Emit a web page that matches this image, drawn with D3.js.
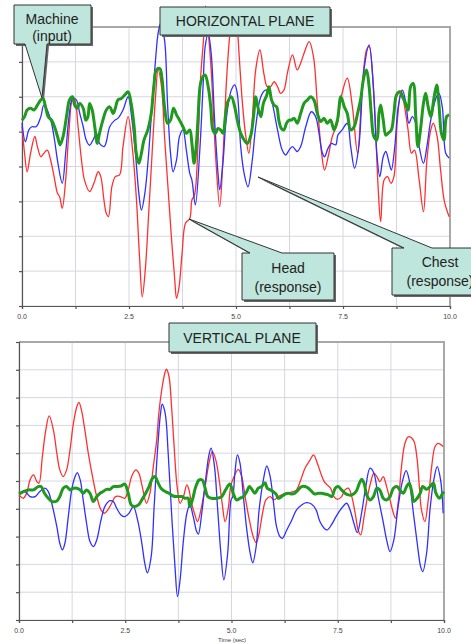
<!DOCTYPE html>
<html>
<head>
<meta charset="utf-8">
<script src="https://cdnjs.cloudflare.com/ajax/libs/d3/7.8.5/d3.min.js"></script>
<style>
  body { margin: 0; background: #fff; }
  svg { display: block; font-family: "Liberation Sans", Arial, sans-serif; }
</style>
</head>
<body>
<svg id="chart" width="471" height="643"></svg>
<script>
// time axis
const gridTimes = [0, 1.25, 2.5, 3.75, 5, 6.25, 7.5, 8.75, 10];
const tickLabels = ["0.0", "2.5", "5.0", "7.5", "10.0"];
const labelTimes = [0, 2.5, 5, 7.5, 10];

// horizontal plane: [time, value]
const horizHead = [[0,1.14],[0.06,0.38],[0.12,-0.15],[0.2,0.38],[0.3,0.86],[0.36,0.57],[0.44,0.28],[0.51,0.38],[0.59,0.47],[0.67,0.18],[0.75,-0.29],[0.83,-0.77],[0.88,-0.87],[0.94,-1.2],[1.02,-0.39],[1.1,1.05],[1.18,1.91],[1.23,1.91],[1.31,1.14],[1.39,0.18],[1.46,-0.39],[1.58,-0.72],[1.68,-0.48],[1.78,-0.15],[1.84,-0.29],[1.92,-1.01],[1.97,-1.35],[2.02,-1.44],[2.1,-0.58],[2.18,-0.29],[2.28,-0.24],[2.36,0.57],[2.48,1.43],[2.59,0.38],[2.67,-0.87],[2.75,-2.68],[2.81,-3.74],[2.88,-2.97],[2.96,-1.35],[3.04,0.38],[3.12,2.0],[3.18,2.77],[3.26,2.29],[3.33,0.86],[3.41,-0.58],[3.49,-2.01],[3.57,-3.26],[3.61,-3.78],[3.67,-3.45],[3.74,-2.49],[3.82,-1.63],[3.92,-1.49],[3.97,-0.96],[4.03,-0.82],[4.11,0.57],[4.17,2.48],[4.24,3.63],[4.29,4.6],[4.35,3.9],[4.42,2.77],[4.52,0.38],[4.62,-1.15],[4.7,0.38],[4.77,2.29],[4.85,3.72],[4.92,4.5],[5.03,3.92],[5.07,3.25],[5.15,1.81],[5.23,0.86],[5.3,0.38],[5.38,1.33],[5.46,2.77],[5.56,3.34],[5.65,2.67],[5.73,2.29],[5.81,2.29],[5.89,2.43],[5.97,2.29],[6.04,2.1],[6.12,2.19],[6.2,2.67],[6.32,3.2],[6.43,2.77],[6.51,2.96],[6.59,3.25],[6.71,3.58],[6.81,3.15],[6.9,1.81],[7.0,0.38],[7.07,-0.1],[7.17,0.38],[7.25,0.86],[7.37,1.24],[7.46,2.0],[7.6,2.53],[7.72,1.71],[7.84,0.38],[7.95,2.29],[8.05,3.34],[8.11,3.44],[8.23,1.81],[8.32,-0.58],[8.38,-1.58],[8.46,-0.39],[8.54,-0.29],[8.62,-0.48],[8.69,-0.29],[8.77,1.33],[8.86,2.19],[8.94,1.71],[9.02,1.05],[9.1,0.38],[9.17,0.47],[9.28,-0.39],[9.38,-1.3],[9.46,0.18],[9.55,1.05],[9.61,1.24],[9.7,0.86],[9.78,-0.1],[9.87,-1.01],[9.98,-1.44]];

const horizChest = [[0,1.24],[0.08,0.71],[0.16,1.05],[0.23,1.14],[0.33,1.14],[0.44,1.43],[0.51,1.76],[0.59,1.62],[0.69,1.24],[0.76,0.76],[0.84,0.09],[0.94,-0.48],[1.02,0.38],[1.1,1.43],[1.18,1.95],[1.27,1.91],[1.35,1.52],[1.43,1.14],[1.5,0.76],[1.58,0.61],[1.66,0.76],[1.74,0.95],[1.81,0.66],[1.92,0.57],[1.97,0.71],[2.05,1.14],[2.17,1.33],[2.24,1.38],[2.36,1.62],[2.48,2.0],[2.57,1.33],[2.65,0.38],[2.73,-0.77],[2.79,-1.25],[2.87,-0.77],[2.96,0.38],[3.04,1.81],[3.12,3.06],[3.18,3.82],[3.24,4.1],[3.33,3.63],[3.4,1.81],[3.47,0.38],[3.53,-0.15],[3.61,0.18],[3.68,0.86],[3.76,1.05],[3.84,0.47],[3.92,-0.2],[3.97,-0.39],[4.05,-1.1],[4.15,0.38],[4.23,2.29],[4.28,3.44],[4.35,3.82],[4.42,3.25],[4.5,1.33],[4.58,-0.2],[4.62,-0.67],[4.7,0.18],[4.77,1.33],[4.89,2.19],[4.97,2.34],[5.03,2.1],[5.11,0.57],[5.19,-0.2],[5.28,-0.58],[5.38,0.18],[5.46,1.14],[5.58,2.0],[5.69,2.19],[5.77,2.15],[5.85,1.81],[5.97,1.05],[6.08,0.47],[6.16,0.33],[6.24,0.47],[6.32,0.57],[6.43,0.43],[6.51,0.57],[6.63,1.14],[6.76,1.57],[6.86,1.43],[6.94,0.95],[7.02,0.38],[7.07,0.28],[7.15,0.52],[7.23,0.66],[7.33,0.62],[7.38,0.9],[7.48,1.05],[7.6,1.24],[7.68,0.57],[7.77,-0.05],[7.87,0.57],[7.99,2.77],[8.11,3.49],[8.21,2.29],[8.29,0.38],[8.36,-0.29],[8.44,0.28],[8.5,0.43],[8.58,0.09],[8.63,-0.1],[8.71,0.57],[8.79,1.71],[8.89,2.19],[8.97,1.81],[9.04,1.24],[9.12,1.43],[9.2,1.24],[9.28,0.57],[9.38,0.09],[9.46,0.57],[9.55,1.33],[9.67,1.95],[9.74,2.1],[9.82,1.71],[9.9,0.38],[9.98,0.24]];

const horizMachine = [[0,1.33],[0.06,1.43],[0.12,1.62],[0.2,1.67],[0.28,1.62],[0.36,1.76],[0.44,1.91],[0.49,1.95],[0.55,1.71],[0.61,1.43],[0.69,1.33],[0.76,1.14],[0.83,0.86],[0.89,0.62],[0.96,0.86],[1.04,1.43],[1.11,1.91],[1.18,2.0],[1.23,1.76],[1.29,1.67],[1.35,1.81],[1.43,1.67],[1.49,1.33],[1.54,1.43],[1.58,1.81],[1.64,1.62],[1.7,1.14],[1.76,0.66],[1.81,0.95],[1.89,1.33],[1.97,1.62],[2.05,1.71],[2.13,1.52],[2.18,1.67],[2.24,1.91],[2.32,1.95],[2.4,2.05],[2.48,2.14],[2.55,1.81],[2.62,1.14],[2.67,0.38],[2.73,0.09],[2.79,0.38],[2.85,0.76],[2.94,1.05],[3.02,1.52],[3.08,2.29],[3.14,2.77],[3.22,2.81],[3.27,2.53],[3.33,1.71],[3.4,1.24],[3.47,1.33],[3.54,1.67],[3.61,1.48],[3.68,1.33],[3.76,1.14],[3.84,0.95],[3.92,1.05],[3.97,0.66],[4.02,0.09],[4.07,0.57],[4.11,1.33],[4.17,2.38],[4.23,2.58],[4.28,2.62],[4.35,2.29],[4.41,1.71],[4.46,1.05],[4.52,0.95],[4.58,1.09],[4.64,1.05],[4.7,0.95],[4.75,1.43],[4.81,1.86],[4.89,2.0],[4.97,1.71],[5.03,1.33],[5.11,0.95],[5.19,0.76],[5.26,0.66],[5.34,0.86],[5.41,1.43],[5.46,2.0],[5.51,1.71],[5.58,1.43],[5.64,1.81],[5.72,2.05],[5.77,2.29],[5.83,1.91],[5.89,1.76],[5.95,1.71],[6.0,1.33],[6.06,1.09],[6.12,1.05],[6.18,1.24],[6.24,1.33],[6.29,1.33],[6.36,1.38],[6.43,1.24],[6.51,1.52],[6.59,1.81],[6.67,1.91],[6.74,2.0],[6.82,1.91],[6.9,1.52],[6.98,1.29],[7.06,1.38],[7.13,1.24],[7.21,1.33],[7.29,1.05],[7.37,1.33],[7.45,2.0],[7.53,1.71],[7.6,1.52],[7.68,1.05],[7.76,1.14],[7.84,1.52],[7.91,1.91],[7.99,2.58],[8.05,2.77],[8.11,2.29],[8.16,1.52],[8.22,0.86],[8.29,0.76],[8.34,1.52],[8.38,1.76],[8.44,1.33],[8.5,0.9],[8.55,0.95],[8.63,1.05],[8.69,1.52],[8.75,2.05],[8.83,2.14],[8.89,2.0],[8.96,1.81],[9.02,1.62],[9.08,2.29],[9.14,2.38],[9.2,1.43],[9.25,0.57],[9.31,1.05],[9.38,1.81],[9.43,2.1],[9.49,1.71],[9.55,1.43],[9.63,2.0],[9.69,2.34],[9.74,1.81],[9.8,0.95],[9.86,0.76],[9.92,1.43],[9.98,1.48]];

// vertical plane: [time, value]
const vertHead = [[0,-0.5],[0.1,-0.62],[0.18,-0.44],[0.26,0.04],[0.34,0.22],[0.42,-0.02],[0.47,-0.08],[0.55,0.88],[0.63,1.83],[0.71,2.34],[0.81,1.83],[0.89,1.0],[0.96,0.4],[1.04,0.16],[1.12,0.4],[1.2,1.12],[1.28,2.07],[1.36,2.67],[1.41,2.83],[1.47,2.55],[1.55,1.83],[1.63,1.0],[1.73,0.16],[1.83,-0.56],[1.93,-1.04],[2.01,-1.16],[2.09,-1.04],[2.18,-0.8],[2.27,-0.56],[2.38,-0.56],[2.49,-0.62],[2.57,-0.32],[2.65,0.16],[2.75,0.4],[2.82,0.28],[2.9,-0.2],[3.0,-0.8],[3.08,-0.44],[3.16,0.52],[3.24,1.47],[3.29,2.43],[3.37,3.39],[3.44,3.93],[3.47,4.02],[3.53,3.75],[3.59,2.67],[3.65,1.24],[3.72,-0.2],[3.79,-0.8],[3.87,-0.56],[3.95,-0.14],[4.0,-0.32],[4.06,-0.8],[4.14,-1.22],[4.2,-1.46],[4.28,-1.04],[4.38,-0.2],[4.47,0.64],[4.55,1.06],[4.63,0.76],[4.71,0.04],[4.78,-0.8],[4.85,-1.46],[4.93,-0.92],[4.98,-0.2],[5.06,0.16],[5.16,0.42],[5.24,0.16],[5.32,-0.56],[5.42,-1.4],[5.51,-2.0],[5.58,-2.22],[5.65,-1.88],[5.73,-1.16],[5.81,-0.68],[5.91,-0.56],[6.0,-0.68],[6.1,-0.56],[6.22,-0.47],[6.34,-0.42],[6.46,-0.38],[6.53,-0.32],[6.63,0.04],[6.73,0.46],[6.85,0.76],[6.93,0.94],[7.02,0.64],[7.1,0.28],[7.18,-0.02],[7.25,-0.14],[7.33,-0.26],[7.41,-0.56],[7.49,-0.66],[7.59,-0.56],[7.67,-0.32],[7.75,-0.26],[7.83,-0.56],[7.91,-1.16],[7.98,-1.76],[8.04,-1.94],[8.12,-1.28],[8.2,-0.56],[8.27,-0.08],[8.35,0.28],[8.42,0.16],[8.49,-0.02],[8.57,0.16],[8.65,-0.2],[8.73,-0.68],[8.81,-1.16],[8.86,-1.34],[8.93,-0.68],[9.0,0.52],[9.08,1.35],[9.16,1.59],[9.28,1.47],[9.36,0.88],[9.42,-0.2],[9.47,-1.04],[9.55,-1.46],[9.63,-0.68],[9.71,0.52],[9.79,1.24],[9.86,1.35],[9.98,1.24]];

const vertChest = [[0,-0.44],[0.14,-0.38],[0.26,-0.56],[0.38,-0.56],[0.49,-0.38],[0.61,-0.26],[0.69,-0.38],[0.77,-0.8],[0.89,-1.64],[0.96,-2.24],[1.02,-2.48],[1.08,-2.24],[1.16,-1.28],[1.24,-0.32],[1.32,0.16],[1.37,0.3],[1.44,0.04],[1.51,-0.68],[1.59,-1.52],[1.67,-2.18],[1.75,-2.36],[1.83,-2.12],[1.93,-1.4],[2.02,-0.92],[2.14,-0.71],[2.22,-0.74],[2.3,-0.98],[2.4,-1.22],[2.49,-1.28],[2.59,-1.16],[2.69,-0.92],[2.79,-1.4],[2.89,-2.24],[2.96,-2.96],[3.02,-3.3],[3.11,-2.72],[3.18,-0.92],[3.26,1.12],[3.33,2.43],[3.37,2.76],[3.44,2.43],[3.51,1.0],[3.59,-1.16],[3.67,-3.08],[3.73,-4.16],[3.79,-3.56],[3.87,-2.12],[3.95,-1.16],[4.02,-0.86],[4.1,-1.28],[4.18,-1.82],[4.22,-1.91],[4.3,-1.16],[4.39,0.04],[4.47,0.94],[4.52,1.18],[4.6,0.52],[4.67,-0.92],[4.75,-2.6],[4.82,-3.56],[4.91,-2.6],[4.99,-0.68],[5.03,-0.56],[5.08,0.28],[5.14,0.94],[5.2,0.64],[5.28,-0.56],[5.36,-1.76],[5.44,-2.6],[5.5,-2.94],[5.58,-2.36],[5.65,-1.04],[5.75,0.04],[5.83,0.54],[5.91,0.16],[5.99,-0.8],[6.06,-1.64],[6.14,-2.0],[6.2,-2.06],[6.3,-1.76],[6.42,-1.4],[6.53,-1.04],[6.65,-0.86],[6.76,-0.78],[6.88,-0.83],[6.99,-1.04],[7.08,-1.46],[7.18,-1.7],[7.25,-1.76],[7.35,-1.58],[7.46,-1.28],[7.59,-0.98],[7.71,-0.8],[7.79,-1.04],[7.88,-1.52],[7.96,-1.86],[8.06,-1.16],[8.16,-0.2],[8.26,0.46],[8.35,0.28],[8.45,-0.56],[8.56,-1.4],[8.65,-2.12],[8.73,-2.54],[8.82,-2.12],[8.92,-0.92],[9.03,0.04],[9.11,0.37],[9.18,0.04],[9.28,-1.16],[9.37,-2.24],[9.45,-3.08],[9.5,-3.26],[9.59,-2.6],[9.67,-1.04],[9.76,0.04],[9.84,0.52],[9.92,0.04],[9.98,-1.16]];

const vertMachine = [[0,-0.47],[0.1,-0.38],[0.22,-0.32],[0.34,-0.32],[0.45,-0.2],[0.52,-0.2],[0.6,-0.44],[0.69,-0.62],[0.78,-0.74],[0.89,-0.72],[0.96,-0.56],[1.04,-0.26],[1.12,-0.2],[1.2,-0.32],[1.28,-0.26],[1.36,-0.26],[1.44,-0.32],[1.51,-0.44],[1.59,-0.32],[1.67,-0.44],[1.75,-0.74],[1.83,-0.56],[1.91,-0.44],[1.98,-0.38],[2.06,-0.3],[2.14,-0.3],[2.22,-0.2],[2.3,-0.2],[2.4,-0.18],[2.49,-0.11],[2.57,-0.44],[2.64,-0.86],[2.71,-0.92],[2.81,-0.86],[2.89,-0.68],[2.98,-0.44],[3.06,-0.2],[3.14,0.1],[3.2,0.16],[3.26,-0.02],[3.34,-0.26],[3.44,-0.38],[3.53,-0.44],[3.63,-0.54],[3.73,-0.56],[3.83,-0.56],[3.91,-0.62],[3.98,-0.62],[4.02,-0.92],[4.08,-0.68],[4.16,-0.2],[4.24,0.04],[4.31,0.04],[4.38,-0.26],[4.44,-0.56],[4.53,-0.62],[4.65,-0.62],[4.77,-0.56],[4.86,-0.32],[4.96,-0.11],[5.04,-0.44],[5.12,-0.68],[5.2,-0.62],[5.28,-0.56],[5.36,-0.38],[5.42,-0.2],[5.48,-0.3],[5.55,-0.44],[5.63,-0.26],[5.71,-0.2],[5.79,-0.06],[5.84,-0.26],[5.91,-0.32],[5.98,-0.38],[6.05,-0.47],[6.1,-0.62],[6.18,-0.56],[6.26,-0.47],[6.34,-0.44],[6.42,-0.47],[6.49,-0.44],[6.57,-0.32],[6.65,-0.2],[6.73,-0.2],[6.81,-0.26],[6.89,-0.38],[6.96,-0.47],[7.04,-0.44],[7.12,-0.44],[7.2,-0.47],[7.28,-0.5],[7.36,-0.56],[7.44,-0.26],[7.51,-0.2],[7.59,-0.32],[7.67,-0.44],[7.75,-0.5],[7.83,-0.5],[7.93,-0.38],[8.01,-0.08],[8.06,0.06],[8.12,-0.08],[8.18,-0.5],[8.26,-0.68],[8.34,-0.56],[8.42,-0.26],[8.49,-0.32],[8.57,-0.62],[8.65,-0.68],[8.73,-0.56],[8.81,-0.26],[8.89,-0.2],[8.96,-0.32],[9.04,-0.44],[9.12,-0.2],[9.18,-0.08],[9.24,-0.38],[9.29,-0.74],[9.37,-0.62],[9.44,-0.44],[9.5,-0.2],[9.59,-0.3],[9.67,-0.2],[9.75,-0.08],[9.81,-0.44],[9.89,-0.62],[9.97,-0.44],[10.0,-0.38]];

const svg = d3.select("#chart");
const boxFill = "#bfe6dc";

function drawPanel(p) {
  const x = d3.scaleLinear().domain([0, 10]).range([p.left, p.right]);
  const y = d3.scaleLinear().domain(p.yDomain).range([p.bottom, p.top]);
  const g = svg.append("g");

  // grid
  g.append("g").selectAll("line").data(gridTimes).join("line")
    .attr("x1", d => x(d)).attr("x2", d => x(d))
    .attr("y1", p.top).attr("y2", p.bottom)
    .attr("stroke", "#d6d6e2").attr("stroke-width", 1);
  g.append("g").selectAll("line").data(p.yGrid).join("line")
    .attr("x1", p.left).attr("x2", p.right)
    .attr("y1", d => y(d)).attr("y2", d => y(d))
    .attr("stroke", "#d6d6e2").attr("stroke-width", 1);

  // frame top / right
  g.append("path")
    .attr("d", `M${p.left},${p.top}H${p.right}V${p.bottom}`)
    .attr("fill", "none").attr("stroke", "#a8a8a8").attr("stroke-width", 2);

  // axes
  const xAxis = d3.axisBottom(x).tickValues(gridTimes).tickSize(3).tickFormat("");
  g.append("g").attr("transform", `translate(0,${p.bottom})`).call(xAxis)
    .call(a => a.selectAll("line,path").attr("stroke", "#555").attr("stroke-width", 1.2));
  const yAxis = d3.axisLeft(y).tickValues(p.yGrid).tickSize(3).tickFormat("");
  g.append("g").attr("transform", `translate(${p.left},0)`).call(yAxis)
    .call(a => a.selectAll("line,path").attr("stroke", "#555").attr("stroke-width", 1.2));

  g.append("g").selectAll("text").data(labelTimes).join("text")
    .attr("x", d => x(d)).attr("y", p.bottom + 13)
    .attr("text-anchor", "middle").attr("font-size", 7).attr("fill", "#444")
    .text((d, i) => tickLabels[i]);

  const line = d3.line().x(d => x(d[0])).y(d => y(d[1])).curve(d3.curveCatmullRom.alpha(0.5));
  g.append("path").datum(p.head).attr("d", line)
    .attr("fill", "none").attr("stroke", "#ff3030").attr("stroke-width", 1.3);
  g.append("path").datum(p.chest).attr("d", line)
    .attr("fill", "none").attr("stroke", "#3030ff").attr("stroke-width", 1.3);
  g.append("path").datum(p.machine).attr("d", line)
    .attr("fill", "none").attr("stroke", "#1f9a1f").attr("stroke-width", 3)
    .attr("stroke-linejoin", "round");
}

drawPanel({
  left: 22, right: 450, top: 27, bottom: 306,
  yDomain: [-4, 4], yGrid: [-4, -3, -2, -1, 0, 1, 2, 3, 4],
  head: horizHead, chest: horizChest, machine: horizMachine
});
drawPanel({
  left: 19, right: 444, top: 342, bottom: 620,
  yDomain: [-5, 5], yGrid: [-5, -4, -3, -2, -1, 0, 1, 2, 3, 4, 5],
  head: vertHead, chest: vertChest, machine: vertMachine
});

svg.append("text").attr("x", 232).attr("y", 642)
  .attr("text-anchor", "middle").attr("font-size", 6).attr("fill", "#444")
  .text("Time (sec)");

// callouts
function callout(c) {
  const { x, y, w, h } = c;
  let d;
  if (c.side === "top") {
    d = `M${x},${y}L${c.b1},${y}L${c.tip[0]},${c.tip[1]}L${c.b2},${y}L${x + w},${y}V${y + h}H${x}Z`;
  } else if (c.side === "bottom") {
    d = `M${x},${y}H${x + w}V${y + h}L${c.b2},${y + h}L${c.tip[0]},${c.tip[1]}L${c.b1},${y + h}H${x}Z`;
  } else {
    d = `M${x},${y}H${x + w}V${y + h}H${x}Z`;
  }
  const g = svg.append("g");
  g.append("path").attr("d", d).attr("transform", "translate(2,2)").attr("fill", "#666");
  g.append("path").attr("d", d).attr("fill", boxFill).attr("stroke", "#333").attr("stroke-width", 1);
  g.selectAll("text").data(c.lines).join("text")
    .attr("x", c.tx).attr("y", (dd, i) => c.ty + i * c.lh)
    .attr("text-anchor", "middle").attr("font-size", c.fs).attr("fill", "#222")
    .text(dd => dd);
}

callout({ x: 14, y: 5, w: 77, h: 39, side: "bottom", b1: 25, b2: 47, tip: [42, 98],
  lines: ["Machine", "(input)"], tx: 52, ty: 24, lh: 17, fs: 14 });
callout({ x: 160, y: 7, w: 170, h: 28, side: "none",
  lines: ["HORIZONTAL PLANE"], tx: 245, ty: 26, lh: 0, fs: 14 });
callout({ x: 242, y: 253, w: 92, h: 47, side: "top", b1: 250, b2: 282, tip: [189, 219],
  lines: ["Head", "(response)"], tx: 288, ty: 273, lh: 19, fs: 14 });
callout({ x: 392, y: 248, w: 95, h: 47, side: "top", b1: 404, b2: 432, tip: [258, 177],
  lines: ["Chest", "(response)"], tx: 440, ty: 267, lh: 19, fs: 14 });
callout({ x: 169, y: 323, w: 147, h: 29, side: "none",
  lines: ["VERTICAL PLANE"], tx: 242, ty: 343, lh: 0, fs: 14 });
</script>
</body>
</html>
